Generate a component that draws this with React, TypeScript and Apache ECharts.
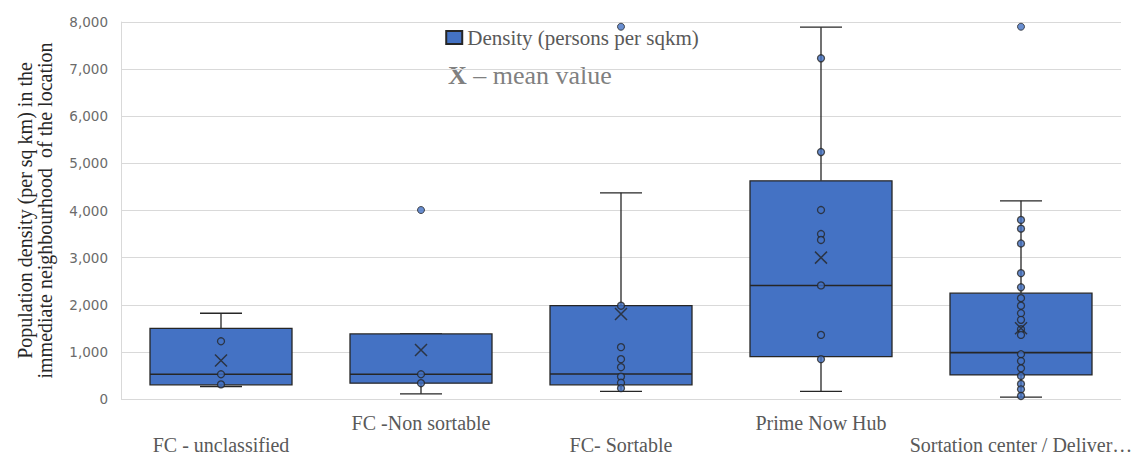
import React, { useEffect, useRef } from "react";
import * as echarts from "echarts";

const categories = [
  "FC - unclassified",
  "FC -Non sortable",
  "FC- Sortable",
  "Prime Now Hub",
  "Sortation center / Deliver…",
];
const whiskerLow = [265, 110, 160, 160, 40];
const q1 = [300, 335, 300, 900, 510];
const median = [525, 525, 530, 2410, 985];
const q3 = [1500, 1380, 1980, 4630, 2245];
const whiskerHigh = [1820, 1380, 4375, 7890, 4205];
const means = [815, 1040, 1805, 3000, 1500];
const innerPoints = [
  [1225, 525, 310],
  [525, 335],
  [1980, 1100, 845, 675, 475, 345, 230],
  [7230, 5240, 4010, 3500, 3375, 2410, 1360, 845],
  [3800, 3615, 3300, 2670, 2370, 2140, 1980, 1820, 1680, 1480, 1360, 950, 805, 650, 490, 320, 205, 65],
];
const outliers = [[], [4010], [7900], [], [7900]];
const yTicks = { min: 0, max: 8000, interval: 1000 };

const SERIF = "'Liberation Serif', 'DejaVu Serif', serif";
const BLUE = "#4472C4";
const DARK = "#262626";

export default function App() {
  const ref = useRef<HTMLDivElement>(null);
  useEffect(() => {
    if (!ref.current) return;
    const chart = echarts.init(ref.current, null, { renderer: "svg" });
    const boxData = categories.map((_, i) => [i, whiskerLow[i], q1[i], median[i], q3[i], whiskerHigh[i]]);
    const pointData: number[][] = [];
    innerPoints.forEach((arr, i) => arr.forEach((v) => pointData.push([i, v])));
    const outlierData: number[][] = [];
    outliers.forEach((arr, i) => arr.forEach((v) => outlierData.push([i, v])));
    const meanData = means.map((v, i) => [i, v]);

    chart.setOption({
      animation: false,
      backgroundColor: "#ffffff",
      grid: { left: 121, right: 23, top: 22, bottom: 63, containLabel: false, outerBoundsMode: "none" },
      legend: {
        top: 22,
        left: "center",
        itemWidth: 16,
        itemHeight: 13,
        itemGap: 8,
        data: [{ name: "Density (persons per sqkm)", icon: "rect" }],
        textStyle: { fontFamily: SERIF, fontSize: 21, color: "#595959" },
      },
      graphic: [
        {
          type: "text",
          left: 448,
          top: 62,
          style: {
            text: "{b|X} – mean value",
            fill: "#808080",
            font: `26px ${SERIF}`,
            rich: {
              b: { fontFamily: SERIF, fontSize: 26, fontWeight: "bold", fill: "#808080" },
            },
          },
        },
      ],
      xAxis: {
        type: "category",
        data: categories,
        boundaryGap: true,
        axisLine: { show: false },
        axisTick: { show: false },
        axisLabel: {
          interval: 0,
          margin: 13,
          fontFamily: SERIF,
          fontSize: 20,
          lineHeight: 22,
          color: "#595959",
          formatter: (v: string, i: number) => (i % 2 === 0 ? "\n" + v : v),
        },
      },
      yAxis: {
        type: "value",
        min: yTicks.min,
        max: yTicks.max,
        interval: yTicks.interval,
        name: "Population density (per sq km) in the\nimmediate neighbourhood  of the location",
        nameLocation: "middle",
        nameGap: 66,
        nameTextStyle: { fontFamily: SERIF, fontSize: 20, color: "#262626", lineHeight: 20 },
        axisLine: { show: true, lineStyle: { color: "#d9d9d9" } },
        axisTick: { show: false },
        splitLine: { lineStyle: { color: "#d9d9d9", width: 1 } },
        axisLabel: {
          margin: 13,
          fontFamily: "'DejaVu Sans', sans-serif",
          fontSize: 13.5,
          color: "#6b6b6b",
          formatter: (v: number) => v.toLocaleString("en-US"),
        },
      },
      series: [
        {
          name: "Density (persons per sqkm)",
          type: "custom",
          itemStyle: { color: BLUE, borderColor: DARK, borderWidth: 1 },
          encode: { x: 0, y: [1, 2, 3, 4, 5] },
          data: boxData,
          renderItem: (params: any, api: any) => {
            const x = api.value(0);
            const pLow = api.coord([x, api.value(1)]);
            const pQ1 = api.coord([x, api.value(2)]);
            const pMed = api.coord([x, api.value(3)]);
            const pQ3 = api.coord([x, api.value(4)]);
            const pHigh = api.coord([x, api.value(5)]);
            const band = api.size([1, 0])[0];
            const bw = band * 0.71;
            const cw = band * 0.21;
            const cx = pMed[0];
            const ls = { stroke: DARK, lineWidth: 1.3 };
            return {
              type: "group",
              children: [
                { type: "line", shape: { x1: cx, y1: pQ3[1], x2: cx, y2: pHigh[1] }, style: ls },
                { type: "line", shape: { x1: cx, y1: pQ1[1], x2: cx, y2: pLow[1] }, style: ls },
                { type: "line", shape: { x1: cx - cw / 2, y1: pHigh[1], x2: cx + cw / 2, y2: pHigh[1] }, style: ls },
                { type: "line", shape: { x1: cx - cw / 2, y1: pLow[1], x2: cx + cw / 2, y2: pLow[1] }, style: ls },
                {
                  type: "rect",
                  shape: { x: cx - bw / 2, y: pQ3[1], width: bw, height: pQ1[1] - pQ3[1] },
                  style: { fill: BLUE, stroke: DARK, lineWidth: 1.3 },
                },
                { type: "line", shape: { x1: cx - bw / 2, y1: pMed[1], x2: cx + bw / 2, y2: pMed[1] }, style: { stroke: DARK, lineWidth: 1.6 } },
              ],
            };
          },
          z: 2,
        },
        {
          name: "points",
          type: "scatter",
          data: pointData,
          symbol: "circle",
          symbolSize: 7,
          itemStyle: { color: BLUE, borderColor: DARK, borderWidth: 1.3 },
          z: 3,
        },
        {
          name: "outliers",
          type: "scatter",
          data: outlierData,
          symbol: "circle",
          symbolSize: 7,
          itemStyle: { color: BLUE, borderColor: DARK, borderWidth: 1 },
          z: 3,
        },
        {
          name: "mean",
          type: "scatter",
          data: meanData,
          symbol: "path://M0,0L10,10M10,0L0,10",
          symbolSize: 12,
          itemStyle: { color: "none", borderColor: DARK, borderWidth: 1.5 },
          z: 4,
        },
      ],
    });
    return () => chart.dispose();
  }, []);
  return <div ref={ref} style={{ position: "absolute", left: 0, top: 0, width: 1144, height: 462 }} />;
}
